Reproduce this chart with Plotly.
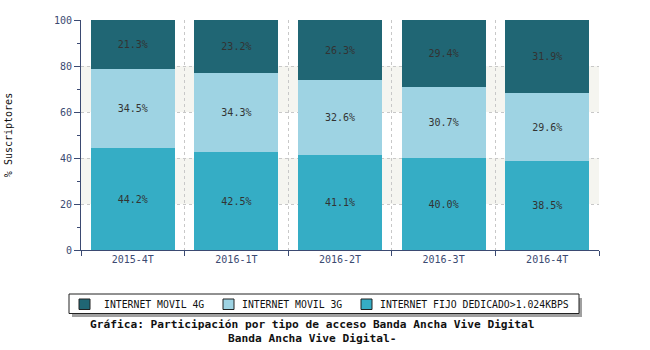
import plotly.graph_objects as go

categories = ["2015-4T", "2016-1T", "2016-2T", "2016-3T", "2016-4T"]
fijo = [44.2, 42.5, 41.1, 40.0, 38.5]
movil3g = [34.5, 34.3, 32.6, 30.7, 29.6]
movil4g = [21.3, 23.2, 26.3, 29.4, 31.9]
series_names = ["INTERNET FIJO DEDICADO>1.024KBPS", "INTERNET MOVIL 3G", "INTERNET MOVIL 4G"]
series_colors = ["#35adc5", "#9ed3e3", "#206674"]
y_ticks = [0, 20, 40, 60, 80, 100]

MONO = "DejaVu Sans Mono"
AXC = "#3b4a72"
L, R, T, B = 81, 51, 20, 100
W, H = 650, 350
PW, PH = W - L - R, H - T - B


def px_x(p):
    return (p - L) / PW


def px_y(p):
    return (H - B - p) / PH


fig = go.Figure()
for name, vals, col in zip(series_names, [fijo, movil3g, movil4g], series_colors):
    fig.add_trace(go.Bar(
        x=categories, y=vals, name=name,
        marker=dict(color=col, line=dict(width=0)),
        text=[f"{v:.1f}%" for v in vals],
        textposition="inside", insidetextanchor="middle",
        textfont=dict(family=MONO, size=10, color="#333333"),
        constraintext="none", cliponaxis=True, showlegend=False,
    ))

shapes = []
# alternating bands
for lo, hi in [(20, 40), (60, 80)]:
    shapes.append(dict(type="rect", xref="paper", yref="y", x0=0, x1=1, y0=lo, y1=hi,
                       fillcolor="#f5f5f0", line=dict(width=0), layer="below"))
# legend shadow + box
shapes.append(dict(type="rect", xref="paper", yref="paper",
                   x0=px_x(72), x1=px_x(582), y0=px_y(298), y1=px_y(317),
                   fillcolor="#a0a0a0", line=dict(width=0), layer="above"))
shapes.append(dict(type="rect", xref="paper", yref="paper",
                   x0=px_x(69), x1=px_x(579), y0=px_y(294), y1=px_y(313.5),
                   fillcolor="white", line=dict(width=1, color="#222222"), layer="above"))

annotations = []
legend_order = [2, 1, 0]
sq_left = [79, 223, 361]
txt_left = [102, 240, 378]
for i, sx, tx in zip(legend_order, sq_left, txt_left):
    shapes.append(dict(type="rect", xref="paper", yref="paper",
                       x0=px_x(sx), x1=px_x(sx + 11), y0=px_y(299), y1=px_y(309.5),
                       fillcolor=series_colors[i], line=dict(width=1, color="#222222"), layer="above"))
    annotations.append(dict(text=series_names[i], xref="paper", yref="paper",
                            x=px_x(tx), y=px_y(304), xanchor="left", yanchor="middle",
                            showarrow=False, font=dict(family=MONO, size=9.8, color="#111111")))

annotations += [
    dict(text="<b>Gráfica: Participación por tipo de acceso Banda Ancha Vive Digital</b>",
         xref="paper", yref="paper", x=px_x(312), y=px_y(324.5), xanchor="center", yanchor="middle",
         showarrow=False, font=dict(family=MONO, size=11.2, color="#111111")),
    dict(text="<b>Banda Ancha Vive Digital-</b>",
         xref="paper", yref="paper", x=px_x(312), y=px_y(338), xanchor="center", yanchor="middle",
         showarrow=False, font=dict(family=MONO, size=11.2, color="#111111")),
]

fig.update_layout(
    width=W, height=H,
    margin=dict(l=L, r=R, t=T, b=B, pad=0),
    paper_bgcolor="white", plot_bgcolor="white",
    barmode="stack", bargap=0.19,
    font=dict(family=MONO, size=10, color=AXC),
    shapes=shapes,
    annotations=annotations,
    showlegend=False,
    xaxis=dict(type="category", tickson="boundaries", showgrid=True, automargin=False,
               gridcolor="#c8c8c8", griddash="3px,3px", gridwidth=1,
               showline=True, linecolor=AXC, linewidth=1,
               ticks="outside", ticklen=5, tickcolor=AXC,
               tickfont=dict(family=MONO, size=10, color=AXC)),
    yaxis=dict(range=[0, 100], tickvals=y_ticks, showgrid=True, automargin=False,
               gridcolor="#c8c8c8", griddash="3px,3px", gridwidth=1,
               showline=True, linecolor=AXC, linewidth=1,
               ticks="outside", ticklen=6, tickcolor=AXC,
               minor=dict(dtick=10, ticks="outside", ticklen=3, tickcolor=AXC, showgrid=False),
               tickfont=dict(family=MONO, size=10, color=AXC),
               zeroline=False,
               title=dict(text="% Suscriptores", font=dict(family=MONO, size=10, color="#111111"),
                          standoff=39)),
)

fig.write_html("out.html")
